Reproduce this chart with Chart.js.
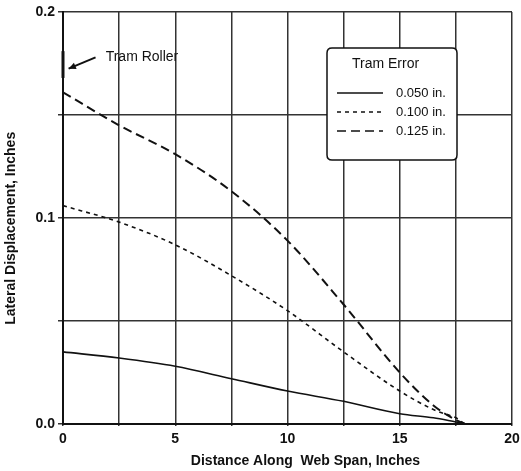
<!DOCTYPE html>
<html>
<head>
<meta charset="utf-8">
<script src="https://cdn.jsdelivr.net/npm/chart.js@4/dist/chart.umd.min.js"></script>
<style>
  html, body { margin: 0; padding: 0; background: #fff; }
  #wrap { width: 521px; height: 471px; }
</style>
</head>
<body>
<div id="wrap"><canvas id="chart_canvas"></canvas></div>
<script>
// distance along the web span, inches
const distance = [0, 2.5, 5, 7.5, 10, 12.5, 15, 16.5, 17.5, 18, 20];

// lateral displacement, inches, one array per tram error
const err_050 = [0.035, 0.032, 0.028, 0.022, 0.016, 0.011, 0.005, 0.003, 0.001, 0, 0];
const err_100 = [0.106, 0.098, 0.087, 0.072, 0.055, 0.035, 0.016, 0.007, 0.003, 0, 0];
const err_125 = [0.161, 0.145, 0.131, 0.113, 0.089, 0.058, 0.025, 0.009, 0.002, 0, 0];

const series_labels = ["0.050 in.", "0.100 in.", "0.125 in."];
const legend_title = "Tram Error";

const x_ticks = [0, 5, 10, 15, 20];
const y_ticks = [0.0, 0.1, 0.2];

const x_title = "Distance Along  Web Span, Inches";
const y_title = "Lateral Displacement, Inches";
const note_text = "Tram Roller";

const font_name = "'Liberation Sans', Arial, sans-serif";

function points(values){
  return distance.map((d, i) => ({ x: d, y: values[i] }));
}

const dash_styles = [[], [4, 4], [9, 5]];

//legend box, axis titles and the "Tram Roller" note drawn on top of the plot
const overlay = {
  id: "overlay",
  afterDraw(chart){
    const ctx = chart.ctx;
    const area = chart.chartArea;
    const xs = chart.scales.x, ys = chart.scales.y;
    ctx.save();

    // legend box
    const bx = area.left + 264, by = area.top + 36, bw = 130, bh = 112, r = 5;
    ctx.fillStyle = "#fff";
    ctx.strokeStyle = "#111";
    ctx.lineWidth = 1.5;
    ctx.beginPath();
    ctx.moveTo(bx + r, by);
    ctx.lineTo(bx + bw - r, by);
    ctx.quadraticCurveTo(bx + bw, by, bx + bw, by + r);
    ctx.lineTo(bx + bw, by + bh - r);
    ctx.quadraticCurveTo(bx + bw, by + bh, bx + bw - r, by + bh);
    ctx.lineTo(bx + r, by + bh);
    ctx.quadraticCurveTo(bx, by + bh, bx, by + bh - r);
    ctx.lineTo(bx, by + r);
    ctx.quadraticCurveTo(bx, by, bx + r, by);
    ctx.closePath();
    ctx.fill();
    ctx.stroke();

    ctx.fillStyle = "#111";
    ctx.textBaseline = "middle";
    ctx.font = "14px " + font_name;
    ctx.fillText(legend_title, bx + 25, by + 16);

    chart.data.datasets.forEach((ds, i) => {
      const ly = by + 45 + i * 19;
      ctx.beginPath();
      ctx.setLineDash(ds.borderDash || []);
      ctx.lineWidth = 1.5;
      ctx.moveTo(bx + 10, ly);
      ctx.lineTo(bx + 56, ly);
      ctx.stroke();
      ctx.setLineDash([]);
      ctx.font = "13px " + font_name;
      ctx.fillText(ds.label, bx + 69, ly);
    });

    // tram roller mark on the axis, note and arrow
    ctx.lineWidth = 3;
    ctx.beginPath();
    ctx.moveTo(xs.getPixelForValue(0), ys.getPixelForValue(0.181));
    ctx.lineTo(xs.getPixelForValue(0), ys.getPixelForValue(0.168));
    ctx.stroke();

    ctx.font = "14px " + font_name;
    ctx.fillText(note_text, xs.getPixelForValue(1.9), ys.getPixelForValue(0.178));
    const x0 = xs.getPixelForValue(1.45), y0 = ys.getPixelForValue(0.178);
    const x1 = xs.getPixelForValue(0.25), y1 = ys.getPixelForValue(0.1725);
    ctx.lineWidth = 2;
    ctx.beginPath();
    ctx.moveTo(x0, y0);
    ctx.lineTo(x1, y1);
    ctx.stroke();
    const ang = Math.atan2(y1 - y0, x1 - x0);
    ctx.beginPath();
    ctx.moveTo(x1, y1);
    ctx.lineTo(x1 - 8 * Math.cos(ang - 0.45), y1 - 8 * Math.sin(ang - 0.45));
    ctx.lineTo(x1 - 8 * Math.cos(ang + 0.45), y1 - 8 * Math.sin(ang + 0.45));
    ctx.closePath();
    ctx.fill();

    // axis titles
    ctx.font = "bold 14px " + font_name;
    ctx.textAlign = "center";
    ctx.fillText(x_title, xs.getPixelForValue(10.8), area.bottom + 37);
    ctx.translate(11, ys.getPixelForValue(0.095));
    ctx.rotate(-Math.PI / 2);
    ctx.fillText(y_title, 0, 0);

    ctx.restore();
  }
};

function draw_chart(){
  const ctx_1 = document.getElementById("chart_canvas");

  const all_series = [err_050, err_100, err_125];
  let datasets = [];
  for(let i = 0; i < all_series.length; i++){
    datasets.push({
      label: series_labels[i],
      data: points(all_series[i]),
      borderColor: "#111",
      borderWidth: i == 2 ? 2 : 1.6,
      borderDash: dash_styles[i],
      pointRadius: 0,
      fill: false,
      cubicInterpolationMode: "monotone"
    });
  }

  new Chart(ctx_1, {
    type: "line",
    data: { datasets: datasets },
    plugins: [overlay],
    options: {
      responsive: true,
      maintainAspectRatio: false,
      animation: false,
      layout: { padding: { top: 12, right: 9, left: 0, bottom: 0 } },
      plugins: { legend: { display: false }, tooltip: { enabled: false } },
      scales: {
        x: {
          type: "linear",
          min: 0, max: 20,
          afterFit: s => { s.height = 47; s.paddingLeft = 0; s.paddingRight = 0; },
          ticks: {
            stepSize: 2.5,
            color: "#111",
            padding: 5,
            font: { family: font_name, size: 14, weight: "bold" },
            callback: v => x_ticks.includes(v) ? String(v) : ""
          },
          grid: { color: "#333", lineWidth: 1.5, tickLength: 2 },
          border: { color: "#111", width: 2 },
          title: { display: false }
        },
        y: {
          min: 0, max: 0.2,
          afterFit: s => { s.width = 63; },
          ticks: {
            stepSize: 0.05,
            color: "#111",
            padding: 3,
            font: { family: font_name, size: 14, weight: "bold" },
            callback: v => {
              const hit = y_ticks.find(t => Math.abs(t - v) < 1e-6);
              return hit === undefined ? "" : hit.toFixed(1);
            }
          },
          grid: { color: "#333", lineWidth: 1.5, tickLength: 5 },
          border: { color: "#111", width: 2 },
          title: { display: false }
        }
      }
    }
  });
}

draw_chart();
</script>
</body>
</html>
